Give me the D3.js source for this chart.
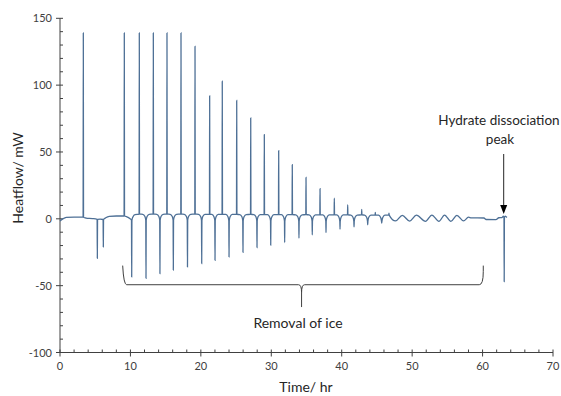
<!DOCTYPE html>
<html>
<head>
<meta charset="utf-8">
<script src="https://cdn.jsdelivr.net/npm/d3@7"></script>
<style>
  body { margin: 0; background: #fff; }
  svg { display: block; font-family: Lato, 'Liberation Sans', sans-serif; }
</style>
</head>
<body>
<div id="chart"></div>
<script>
// baseline of the heat-flow trace, [time hr, heatflow mW]
const baseline = [
  [0, -1.6], [0.4, 0], [0.9, 1.1], [2, 1.3], [3.31, 1.2], [3.7, 0.6], [4.6, 0.2],
  [5.30, -0.4], [5.7, -0.3], [6.15, -0.5], [6.5, 0.8], [7.0, 1.8], [8, 2.1], [9.13, 2.1],
  [9.45, 1.6], [9.9, 0.3], [10.18, -1.1], [10.35, 1.4], [10.65, 3.2], [11.26, 3.5],
  [11.76, 3.4], [12.06, 1.7], [12.21, -1.1], [12.36, 1.7], [12.66, 3.4], [13.25, 3.5],
  [13.74, 3.4], [14.04, 1.7], [14.19, -1.1], [14.34, 1.7], [14.64, 3.4], [15.19, 3.5],
  [15.64, 3.4], [15.94, 1.7], [16.09, -1.1], [16.24, 1.7], [16.54, 3.4], [17.18, 3.5],
  [17.65, 3.4], [17.95, 1.7], [18.10, -1.1], [18.25, 1.7], [18.55, 3.4], [19.17, 3.5],
  [19.67, 3.4], [19.97, 1.7], [20.12, -1.2], [20.27, 1.7], [20.57, 3.4], [21.25, 3.4],
  [21.56, 3.3], [21.86, 1.6], [22.01, -1.2], [22.16, 1.6], [22.46, 3.3], [23.04, 3.4],
  [23.55, 3.3], [23.85, 1.6], [24.00, -1.3], [24.15, 1.6], [24.45, 3.3], [25.09, 3.3],
  [25.53, 3.2], [25.83, 1.5], [25.98, -1.3], [26.13, 1.5], [26.43, 3.2], [27.08, 3.3],
  [27.52, 3.2], [27.82, 1.5], [27.97, -1.4], [28.12, 1.5], [28.42, 3.2], [29.01, 3.2],
  [29.47, 3.1], [29.77, 1.4], [29.92, -1.4], [30.07, 1.4], [30.37, 3.1], [31.05, 3.2],
  [31.45, 3.1], [31.75, 1.4], [31.90, -1.5], [32.05, 1.4], [32.35, 3.1], [32.98, 3.1],
  [33.48, 3.0], [33.78, 1.3], [33.93, -1.5], [34.08, 1.3], [34.38, 3.0], [34.93, 3.1],
  [35.37, 3.0], [35.67, 1.3], [35.82, -1.6], [35.97, 1.3], [36.27, 3.0], [36.92, 3.0],
  [37.32, 2.9], [37.62, 1.2], [37.77, -1.6], [37.92, 1.2], [38.22, 2.9], [38.95, 3.0],
  [39.31, 2.9], [39.61, 1.2], [39.76, -1.7], [39.91, 1.2], [40.21, 2.9], [40.85, 2.9],
  [41.30, 2.8], [41.60, 1.1], [41.75, -1.7], [41.90, 1.1], [42.20, 2.8], [42.84, 2.9],
  [43.24, 2.8], [43.54, 1.1], [43.69, -1.8], [43.84, 1.1], [44.14, 2.8], [44.77, 2.8],
  [45.23, 2.7], [45.53, 1.0], [45.68, -1.8], [45.83, 1.0], [46.13, 2.7], [46.71, 2.8],
  [47.65, -1.6], [48.6, 2.6], [49.65, -1.7], [50.6, 2.7], [51.9, -1.9], [52.8, 2.8],
  [53.8, -1.9], [54.6, 2.8], [55.5, -1.9], [56.35, 2.6], [57.3, -1.6], [58.0, 1.2],
  [58.4, 0.7], [60.2, 0.6], [60.5, -0.5], [61.9, -0.6], [62.3, 0.8], [62.75, 0.9],
  [62.95, 2.0], [63.07, 0.8], [63.22, 2.0], [63.45, 1.0]
];

// exothermic (freezing) spikes, [time, peak]
const upSpikes = [
  [3.31, 139], [9.13, 139], [11.26, 139], [13.25, 139], [15.19, 139], [17.18, 139],
  [19.17, 129], [21.25, 92], [23.04, 103], [25.09, 88.5], [27.08, 75.5], [29.01, 63],
  [31.05, 51], [32.98, 40.5], [34.93, 31], [36.92, 22.5], [38.95, 15.5], [40.85, 10.5],
  [42.84, 7], [44.77, 4.8], [46.71, 4.2]
];

// endothermic (melting / dissociation) spikes, [time, peak]
const downSpikes = [
  [5.30, -29.5], [6.15, -21], [10.18, -43.5], [12.21, -44.5], [14.19, -41], [16.09, -38.3],
  [18.10, -36], [20.12, -33.5], [22.01, -31], [24.00, -28.5], [25.98, -25], [27.97, -21.5],
  [29.92, -19.7], [31.90, -17.7], [33.93, -14.5], [35.82, -12], [37.77, -10.3], [39.76, -7.7],
  [41.75, -6], [43.69, -4.5], [45.68, -3.2], [63.07, -47]
];

const yTicks = [-100, -50, 0, 50, 100, 150];
const xTicks = [0, 10, 20, 30, 40, 50, 60, 70];

const width = 561;
const height = 396;

const x = d3.scaleLinear().domain([0, 70]).range([60, 553]);
const y = d3.scaleLinear().domain([-100, 150]).range([352.5, 18.3]);

const svg = d3.select('#chart').append('svg')
  .attr('width', width)
  .attr('height', height);

// build trace: baseline with spikes pushed out of it
const spikeAt = new Map();
upSpikes.concat(downSpikes).forEach(function(d) { spikeAt.set(d[0], d[1]); });
const trace = [];
baseline.forEach(function(d) {
  if (spikeAt.has(d[0])) {
    trace.push([d[0] - 0.03, d[1]]);
    trace.push([d[0], spikeAt.get(d[0])]);
    trace.push([d[0] + 0.03, d[1]]);
  } else {
    trace.push(d);
  }
});

// axes
const axisColor = '#404040';
svg.append('line')
  .attr('x1', x(0)).attr('x2', x(0))
  .attr('y1', y(150)).attr('y2', y(-100))
  .attr('stroke', axisColor).attr('stroke-width', 1);
svg.append('line')
  .attr('x1', x(0)).attr('x2', x(70))
  .attr('y1', y(-100)).attr('y2', y(-100))
  .attr('stroke', axisColor).attr('stroke-width', 1);

svg.append('g').selectAll('line')
  .data(d3.range(-100, 151, 10).filter(function(v) { return v % 50 !== 0; }))
  .join('line')
  .attr('x1', x(0)).attr('x2', x(0) + 3)
  .attr('y1', function(d) { return y(d); })
  .attr('y2', function(d) { return y(d); })
  .attr('stroke', axisColor);
svg.append('g').selectAll('line')
  .data(yTicks)
  .join('line')
  .attr('x1', x(0) - 4).attr('x2', x(0) + 3)
  .attr('y1', function(d) { return y(d); })
  .attr('y2', function(d) { return y(d); })
  .attr('stroke', axisColor);
svg.append('g').selectAll('text')
  .data(yTicks)
  .join('text')
  .attr('x', x(0) - 8)
  .attr('y', function(d) { return y(d) + 4; })
  .attr('text-anchor', 'end')
  .attr('font-size', 11)
  .attr('fill', '#404040')
  .text(function(d) { return d; });

svg.append('g').selectAll('line')
  .data(d3.range(0, 71, 2).filter(function(v) { return v % 10 !== 0; }))
  .join('line')
  .attr('x1', function(d) { return x(d); })
  .attr('x2', function(d) { return x(d); })
  .attr('y1', y(-100) - 3).attr('y2', y(-100))
  .attr('stroke', axisColor);
svg.append('g').selectAll('line')
  .data(xTicks)
  .join('line')
  .attr('x1', function(d) { return x(d); })
  .attr('x2', function(d) { return x(d); })
  .attr('y1', y(-100) - 3).attr('y2', y(-100) + 4)
  .attr('stroke', axisColor);
svg.append('g').selectAll('text')
  .data(xTicks)
  .join('text')
  .attr('x', function(d) { return x(d); })
  .attr('y', 370)
  .attr('text-anchor', 'middle')
  .attr('font-size', 11)
  .attr('fill', '#404040')
  .text(function(d) { return d; });

svg.append('text')
  .attr('transform', 'translate(23,178) rotate(-90)')
  .attr('text-anchor', 'middle')
  .attr('font-size', 14)
  .attr('fill', '#262626')
  .text('Heatflow/ mW');
svg.append('text')
  .attr('x', 306).attr('y', 392)
  .attr('text-anchor', 'middle')
  .attr('font-size', 14)
  .attr('fill', '#262626')
  .text('Time/ hr');

// the trace
const valueline = d3.line()
  .x(function(d) { return x(d[0]); })
  .y(function(d) { return y(d[1]); })
  .curve(d3.curveMonotoneX);

svg.append('path')
  .datum(trace)
  .attr('fill', 'none')
  .attr('stroke', '#4e7096')
  .attr('stroke-width', 1.3)
  .attr('d', valueline);

// brace under the melting region
const bx0 = x(8.9), bx1 = x(60.1), bxm = x(34.3);
const bTop = y(-35), bLine = y(-49.3), bTip = y(-66);
const brace = d3.path();
brace.moveTo(bx0, bTop);
brace.quadraticCurveTo(bx0 + 1, bLine, bx0 + 4, bLine);
brace.lineTo(bxm - 3, bLine);
brace.quadraticCurveTo(bxm, bLine, bxm, bLine + 8);
brace.lineTo(bxm, bTip);
brace.moveTo(bxm, bLine + 8);
brace.quadraticCurveTo(bxm, bLine, bxm + 3, bLine);
brace.lineTo(bx1 - 4, bLine);
brace.quadraticCurveTo(bx1, bLine, bx1, bTop + 6);
brace.lineTo(bx1, bTop);
svg.append('path')
  .attr('d', brace.toString())
  .attr('fill', 'none')
  .attr('stroke', '#404040')
  .attr('stroke-width', 1);

svg.append('text')
  .attr('x', 298).attr('y', 328)
  .attr('text-anchor', 'middle')
  .attr('font-size', 14)
  .attr('fill', '#262626')
  .text('Removal of ice');

// dissociation annotation
const ax = x(63.07) - 0.5;
svg.append('line')
  .attr('x1', ax).attr('x2', ax)
  .attr('y1', 154).attr('y2', 206)
  .attr('stroke', '#262626').attr('stroke-width', 1);
svg.append('path')
  .attr('d', 'M' + (ax - 3.5) + ',205 L' + (ax + 3.5) + ',205 L' + ax + ',214 Z')
  .attr('fill', '#000');
svg.append('text')
  .attr('x', 499).attr('y', 125)
  .attr('text-anchor', 'middle')
  .attr('font-size', 13.5)
  .attr('fill', '#262626')
  .text('Hydrate dissociation');
svg.append('text')
  .attr('x', 500).attr('y', 143.5)
  .attr('text-anchor', 'middle')
  .attr('font-size', 13.5)
  .attr('fill', '#262626')
  .text('peak');
</script>
</body>
</html>
